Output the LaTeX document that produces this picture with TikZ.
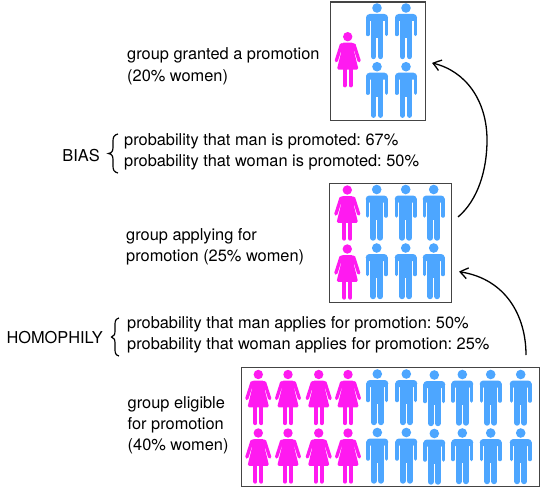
\documentclass[tikz,border=0pt]{standalone}
\usepackage{fontspec}
\setmainfont{TeX Gyre Heros}
\usetikzlibrary{arrows.meta,bending}
\definecolor{mblue}{HTML}{4DA6FF}
\definecolor{mpink}{HTML}{FF1AF0}
\definecolor{boxgray}{HTML}{444444}
\tikzset{
  man/.pic={
    \fill[mblue] (0,0) circle (4.8);
    \fill[mblue,rounded corners=3.6] (-11,6) -- (11,6) -- (11,13) -- (-11,13) -- cycle;
    \fill[mblue] (-6.3,8) rectangle (6.3,30);
    \draw[mblue,line width=3.5,line cap=round] (-9.25,10) -- (-9.25,26.5);
    \draw[mblue,line width=3.5,line cap=round] (9.25,10) -- (9.25,26.5);
    \draw[mblue,line width=5.6,line cap=round] (-3.5,26) -- (-3.5,48.4);
    \draw[mblue,line width=5.6,line cap=round] (3.5,26) -- (3.5,48.4);
  },
  woman/.pic={
    \fill[mpink] (0,0) circle (4.7);
    \fill[mpink,rounded corners=1.5] (-5.8,6) -- (5.8,6) -- (7.2,9) -- (6.2,14) -- (10.8,32.8) -- (-10.8,32.8) -- (-6.2,14) -- (-7.2,9) -- cycle;
    \draw[mpink,line width=3.3,line cap=round] (-6.3,8) -- (-11.4,24);
    \draw[mpink,line width=3.3,line cap=round] (6.3,8) -- (11.4,24);
    \draw[mpink,line width=4.2,line cap=round] (-3,30) -- (-3,48.6);
    \draw[mpink,line width=4.2,line cap=round] (3,30) -- (3,48.6);
  },
  panel/.style={draw=boxgray,line width=1.1pt,fill=none,inner sep=0pt,anchor=north west},
  lbl/.style={inner sep=0pt,anchor=west,align=left,font=\fontsize{16.37}{21.4}\selectfont\frenchspacing},
  flow/.style={draw=black,line width=1.3pt,-{Straight Barb[length=7.5pt,width=11pt,bend]}},
  curly/.style={draw=black,line width=1.2pt}
}
\begin{document}
\begin{tikzpicture}[x=1pt,y=-1pt]
\useasboundingbox (0,0) rectangle (540,487);
\node[panel,minimum width=95pt,minimum height=118.5pt] (top) at (329.5,1.5) {};
\node[panel,minimum width=122pt,minimum height=119pt] (mid) at (329,182.5) {};
\node[panel,minimum width=298.5pt,minimum height=119pt] (bot) at (240.5,367) {};
% top
\pic at (347.7,36.7) {woman};
\foreach \x/\y in {377/8,406/8,377/66.7,406/66.7} \pic at (\x,\y) {man};
% middle
\foreach \y in {190,249} \pic at (347.3,\y) {woman};
\foreach \x in {376.7,405.7,433.7} \foreach \y in {189.5,248} \pic at (\x,\y) {man};
% bottom
\foreach \x in {258.3,288,318.7,348} \foreach \y in {374.5,433} \pic at (\x,\y) {woman};
\foreach \x/\y in {377.3/374,406.3/374,434.3/375,462.3/374.5,490.7/374.5,520.7/374.5} {
  \pic at (\x,\y) {man};
  \pic at (\x,\y+58.5) {man};
}
% text
\node[lbl] (t1) at (127,66.3) {group granted a promotion\\(20\% women)};
\node[lbl] (t2) at (126,246.8) {group applying for\\promotion (25\% women)};
\node[lbl] (t3) at (127.5,425.3) {group eligible\\for promotion\\(40\% women)};
\node[lbl] (b1) at (124,152) {probability that man is promoted: 67\%\\probability that woman is promoted: 50\%};
\node[lbl] (h1) at (127,334.5) {probability that man applies for promotion: 50\%\\probability that woman applies for promotion: 25\%};
\node[lbl,anchor=east] (bias) at (100,155.5) {BIAS};
\node[lbl,anchor=east] (homo) at (103,338) {HOMOPHILY};
% braces
\draw[curly] (118,134) .. controls (114,135) and (113,137) .. (113,141) -- (113,147) .. controls (113,151) and (112,153) .. (108.5,153.5) .. controls (112,154) and (113,156) .. (113,160) -- (113,166) .. controls (113,170) and (114,172) .. (118,173);
\draw[curly] (119,318) .. controls (115.5,319) and (115,321) .. (115,325) -- (115,330) .. controls (115,334) and (114.5,336.5) .. (111.5,337) .. controls (114.5,337.5) and (115,340) .. (115,344) -- (115,349) .. controls (115,353) and (115.5,355) .. (119,356);
% arrows
\coordinate (a1s) at (458,217);
\coordinate (a1m) at (487,140);
\coordinate (a1e) at (432,63);
\coordinate (a2s) at (526,355);
\coordinate (a2e) at (459,271.7);
\draw[flow] (a1s) .. controls (478,200) and (487,170) .. (a1m) .. controls (487,100) and (465,70) .. (a1e);
\draw[flow] (a2s) .. controls (526,315) and (505,278) .. (a2e);
\end{tikzpicture}
\end{document}
